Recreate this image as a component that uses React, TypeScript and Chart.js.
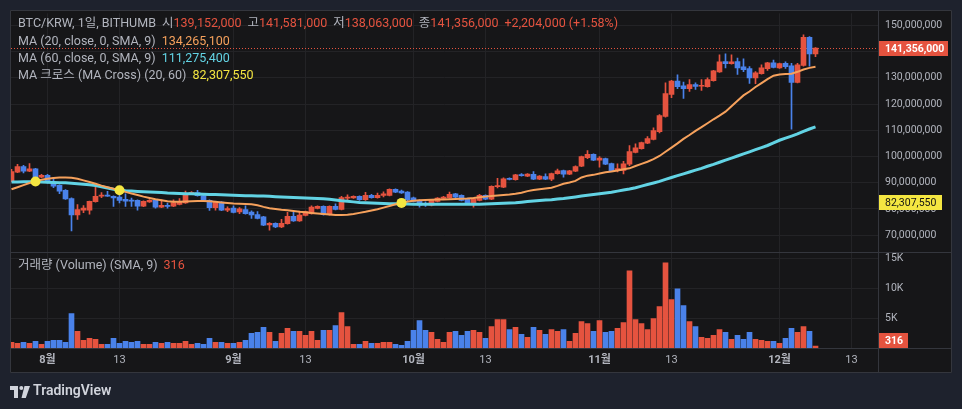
import React, { useEffect, useRef } from "react";
import { Chart, registerables } from "chart.js";

Chart.register(...registerables);

// ---------- DATA (prices in millions of KRW, daily, 2024-07-26 .. 2024-12-07) ----------
const OPEN = [
  90.5, 94.0, 96.2, 94.4, 95.3, 92.1, 92.8, 90.2, 89.0, 87.1,
  84.0, 77.7, 79.5, 79.5, 82.8, 84.9, 85.2, 84.8, 84.5, 83.7,
  83.3, 83.3, 81.1, 82.7, 83.3, 80.7, 81.4, 81.1, 81.7, 82.3,
  86.0, 86.2, 85.1, 83.3, 80.5, 82.6, 79.5, 80.3, 78.9, 79.8,
  78.8, 77.9, 77.0, 73.9, 74.5, 73.1, 74.4, 77.2, 75.4, 77.5,
  78.2, 80.2, 81.0, 77.8, 81.0, 79.8, 84.1, 84.2, 84.8, 83.5,
  85.2, 84.3, 85.2, 85.2, 87.5, 86.8, 86.4, 84.2, 83.3, 82.0,
  81.4, 82.9, 84.0, 84.3, 85.8, 85.2, 83.9, 82.3, 83.3, 85.2,
  83.7, 88.5, 88.3, 91.7, 91.2, 93.0, 92.5, 93.2, 91.4, 92.3,
  91.4, 93.5, 94.6, 93.3, 94.4, 96.3, 99.6, 100.8, 98.6, 99.2,
  97.3, 94.6, 94.7, 97.1, 101.6, 103.0, 105.1, 106.5, 109.5, 115.3,
  123.7, 128.8, 127.0, 125.9, 127.4, 126.8, 126.6, 128.9, 132.3, 136.2,
  135.4, 136.2, 134.2, 133.5, 130.0, 131.6, 133.5, 135.7, 133.8, 135.5,
  134.6, 128.3, 134.7, 145.5, 139.152,
];
const HIGH = [
  95.1, 97.0, 96.6, 97.3, 95.5, 93.2, 93.2, 92.1, 89.2, 87.4,
  84.2, 81.7, 81.3, 83.0, 88.3, 86.2, 86.7, 85.0, 86.1, 85.8,
  84.1, 83.5, 83.1, 83.6, 83.5, 83.5, 82.2, 83.5, 84.0, 86.8,
  86.6, 87.1, 85.9, 83.5, 82.8, 82.8, 80.8, 81.2, 80.5, 81.2,
  79.3, 79.0, 77.2, 74.8, 74.7, 76.0, 78.7, 78.7, 79.2, 79.2,
  81.2, 81.2, 81.2, 81.2, 82.0, 84.8, 85.4, 85.0, 85.0, 86.3,
  85.6, 86.1, 86.5, 87.7, 87.7, 87.2, 86.6, 84.5, 83.5, 82.7,
  83.5, 84.3, 84.8, 86.4, 86.0, 85.4, 84.1, 84.1, 85.6, 85.4,
  88.8, 91.7, 91.9, 91.9, 93.2, 93.5, 93.5, 94.3, 92.7, 93.4,
  93.7, 95.2, 94.8, 94.7, 96.4, 100.2, 102.3, 101.0, 100.0, 99.4,
  97.5, 97.2, 98.2, 104.2, 104.8, 105.5, 107.6, 110.9, 116.0, 128.1,
  129.1, 131.2, 128.4, 129.3, 128.1, 129.3, 130.0, 132.9, 138.8, 139.2,
  138.8, 137.5, 137.3, 134.3, 132.4, 135.0, 135.9, 136.8, 135.6, 136.1,
  135.5, 135.5, 146.4, 145.7, 141.581,
];
const LOW = [
  90.4, 93.8, 93.7, 94.2, 91.7, 91.9, 89.8, 88.1, 85.8, 83.6,
  71.6, 76.0, 78.6, 78.0, 82.6, 84.3, 84.8, 81.0, 82.3, 81.0,
  81.0, 79.5, 80.9, 82.5, 80.3, 80.5, 80.3, 80.9, 81.5, 82.1,
  85.6, 84.9, 82.8, 79.4, 79.5, 79.3, 79.0, 78.5, 78.2, 78.0,
  76.4, 76.2, 73.6, 71.9, 72.9, 72.9, 74.2, 75.2, 75.2, 77.3,
  78.0, 80.0, 77.6, 77.6, 79.6, 79.6, 82.9, 84.0, 83.3, 83.3,
  84.1, 84.1, 84.6, 85.0, 86.2, 85.9, 82.6, 82.7, 80.7, 81.0,
  81.2, 82.7, 83.8, 84.1, 84.3, 83.1, 82.1, 80.7, 83.1, 83.5,
  83.5, 88.0, 88.1, 91.1, 91.0, 92.5, 92.3, 91.2, 91.2, 91.2,
  90.8, 93.3, 92.1, 93.1, 94.2, 96.1, 99.2, 98.4, 95.9, 96.9,
  94.4, 94.1, 93.4, 96.5, 101.4, 102.8, 104.9, 106.3, 109.0, 115.0,
  122.4, 125.9, 122.2, 124.8, 125.6, 125.2, 126.4, 128.7, 132.1, 133.8,
  135.2, 131.3, 132.4, 127.9, 127.8, 131.4, 132.8, 133.8, 133.6, 133.6,
  110.4, 128.1, 134.5, 134.5, 138.063,
];
const CLOSE = [
  94.3, 96.2, 94.4, 95.3, 91.9, 92.8, 90.0, 88.7, 86.8, 83.8,
  77.7, 79.8, 80.3, 82.9, 84.8, 85.2, 84.9, 84.2, 83.3, 83.0,
  83.0, 81.1, 82.9, 83.3, 80.7, 81.4, 81.0, 82.4, 82.6, 85.8,
  86.3, 85.1, 83.0, 80.5, 82.6, 79.5, 80.1, 78.7, 80.0, 78.2,
  77.7, 76.4, 73.8, 74.5, 73.1, 74.5, 77.2, 75.4, 77.7, 79.0,
  80.7, 81.0, 77.8, 81.0, 79.8, 84.3, 84.4, 84.8, 83.5, 85.2,
  84.3, 85.2, 85.8, 87.5, 86.4, 86.1, 83.5, 82.9, 81.4, 81.8,
  83.3, 84.1, 84.5, 85.6, 84.5, 83.3, 82.3, 83.9, 85.2, 83.7,
  88.6, 88.7, 91.5, 91.3, 93.0, 92.7, 93.3, 91.4, 92.5, 91.4,
  93.5, 94.5, 93.3, 94.5, 96.2, 100.0, 100.8, 98.6, 99.4, 97.1,
  94.6, 95.4, 97.2, 101.9, 103.3, 105.3, 106.8, 109.9, 115.6, 124.0,
  128.8, 126.6, 125.9, 127.4, 126.7, 127.0, 129.3, 132.7, 136.1, 135.4,
  136.1, 133.8, 133.1, 130.0, 131.9, 133.8, 135.7, 134.0, 135.4, 134.3,
  128.3, 135.0, 145.5, 139.152, 141.356,
];
const VOLUME = [
  945, 780, 945, 780, 1110, 610, 1110, 1280, 1280, 945,
  5780, 2780, 1280, 1610, 1445, 610, 610, 1610, 780, 1110,
  945, 1110, 610, 610, 945, 780, 945, 780, 780, 1110,
  610, 780, 610, 1610, 945, 945, 780, 780, 945, 1280,
  2450, 2610, 3450, 2610, 1110, 2450, 3280, 2780, 2780, 2110,
  2780, 1280, 2950, 2950, 3780, 5950, 3610, 610, 610, 1110,
  780, 780, 945, 945, 610, 445, 1110, 2950, 4610, 2950,
  2610, 1445, 945, 2610, 2780, 2110, 2780, 2950, 2610, 1610,
  3610, 4780, 4780, 3110, 3450, 2280, 1780, 3450, 2950, 2280,
  3110, 2780, 3110, 1110, 2450, 4450, 4110, 2780, 4610, 2610,
  2780, 3280, 4280, 12950, 4780, 4110, 3110, 4950, 6950, 14290,
  8120, 9950, 7120, 4450, 3610, 1780, 1610, 2110, 3110, 2610,
  1445, 2110, 1445, 2610, 1445, 1280, 1110, 1110, 780, 1610,
  3280, 2610, 3610, 2780, 316,
];
const MA20 = [
  87.5, 88.3, 89.1, 89.9, 90.5, 91.1, 91.5, 91.8, 92.0, 92.0,
  91.9, 91.5, 90.9, 90.3, 89.6, 88.9, 88.3, 87.7, 87.1, 86.5,
  85.9, 85.3, 84.7, 84.2, 83.7, 83.3, 82.9, 82.7, 82.7, 82.8,
  82.9, 83.0, 83.0, 82.9, 82.7, 82.5, 82.3, 82.1, 82.0, 81.9,
  81.8, 81.4, 80.8, 80.3, 80.0, 79.7, 79.5, 79.2, 78.9, 78.7,
  78.5, 78.3, 78.1, 77.9, 77.7, 77.7, 77.8, 78.1, 78.5, 78.9,
  79.4, 79.9, 80.5, 81.1, 81.8, 82.3, 82.8, 83.1, 83.3, 83.4,
  83.5, 83.6, 83.6, 83.7, 83.8, 83.9, 84.0, 84.2, 84.5, 84.7,
  84.9, 85.1, 85.3, 85.5, 85.8, 86.2, 86.8, 87.2, 87.5, 87.8,
  88.1, 88.8, 89.6, 90.1, 90.7, 92.0, 92.7, 93.0, 93.5, 94.0,
  94.3, 94.7, 95.1, 95.5, 96.4, 97.2, 98.0, 99.0, 100.2, 101.8,
  103.4, 105.0, 106.7, 108.2, 109.8, 111.2, 112.7, 114.2, 115.6, 117.1,
  119.2, 121.3, 123.3, 124.8, 126.5, 128.0, 129.5, 130.8, 131.3, 131.5,
  131.6, 132.3, 133.2, 133.8, 134.2651,
];
const MA60 = [
  90.3, 90.3, 90.4, 90.4, 90.4, 90.3, 90.2, 90.1, 90.0, 90.0,
  89.8, 89.6, 89.4, 89.2, 88.9, 88.5, 88.0, 87.5, 87.2, 86.9,
  86.8, 86.7, 86.6, 86.5, 86.4, 86.3, 86.1, 86.0, 85.9, 85.8,
  85.8, 85.7, 85.6, 85.5, 85.5, 85.4, 85.3, 85.2, 85.1, 85.0,
  85.0, 84.9, 84.9, 84.8, 84.7, 84.6, 84.5, 84.4, 84.3, 84.2,
  84.1, 84.0, 83.9, 83.7, 83.4, 83.1, 82.9, 82.7, 82.5, 82.4,
  82.3, 82.2, 82.1, 82.0, 82.0, 81.9, 81.9, 81.8, 81.8, 81.8,
  81.8, 81.8, 81.8, 81.8, 81.8, 81.8, 81.8, 81.8, 81.8, 81.9,
  82.0, 82.1, 82.2, 82.3, 82.4, 82.6, 82.8, 83.0, 83.2, 83.4,
  83.5, 83.8, 84.0, 84.3, 84.6, 84.9, 85.2, 85.5, 85.8, 86.1,
  86.4, 86.8, 87.2, 87.6, 88.1, 88.7, 89.3, 89.9, 90.5, 91.3,
  92.0, 92.7, 93.4, 94.1, 94.8, 95.5, 96.3, 97.0, 97.8, 98.6,
  99.4, 100.2, 101.0, 101.8, 102.6, 103.4, 104.2, 105.2, 106.2, 107.0,
  107.8, 108.6, 109.6, 110.5, 111.2754,
];
const CROSS_INDEX = [4, 18, 65];
const CROSS_VALUE = [90.5, 87.1, 82.30755];

const PRICE_TICKS = [70, 80, 90, 100, 110, 120, 130, 140, 150];
const VOLUME_TICKS = [5000, 10000, 15000];
const TIME_TICK_INDEX = [6, 18, 37, 49, 67, 79, 98, 110, 128, 140];
const TIME_TICK_LABELS = ["8월", "13", "9월", "13", "10월", "13", "11월", "13", "12월", "13"];
const TIME_TICK_MONTH = [true, false, true, false, true, false, true, false, true, false];

// ---------- STYLE ----------
const UP = "#e5533f";
const DOWN = "#4a82ea";
const ORANGE = "#f6a15c";
const CYAN = "#62d3e4";
const YELLOW = "#f4e641";
const OUTER_BG = "#1e222d";
const INNER_BG = "#161618";
const GRID = "#232326";
const FRAME_LINE = "#34363d";
const TEXT = "#b2b5be";
const FONT = 'Roboto, "Noto Sans CJK KR", sans-serif';

const fmtWon = (m: number) => Math.round(m * 1e6).toLocaleString("en-US");

const tvPlugin = {
  id: "tvDecor",
  beforeDraw(chart: any) {
    const { ctx, width, height } = chart;
    ctx.save();
    ctx.fillStyle = OUTER_BG;
    ctx.fillRect(0, 0, width, height);
    ctx.fillStyle = INNER_BG;
    ctx.fillRect(10, 10, 942, 363);
    ctx.restore();
  },
  beforeDatasetsDraw(chart: any) {
    const { ctx, chartArea, scales } = chart;
    const last = CLOSE[CLOSE.length - 1];
    const y = Math.round(scales.y.getPixelForValue(last)) + 0.5;
    ctx.save();
    ctx.strokeStyle = UP;
    ctx.lineWidth = 1;
    ctx.setLineDash([1, 2]);
    ctx.beginPath();
    ctx.moveTo(chartArea.left, y);
    ctx.lineTo(chartArea.right, y);
    ctx.stroke();
    ctx.restore();
  },
  afterDraw(chart: any) {
    const { ctx, chartArea, scales } = chart;
    const n = CLOSE.length;
    ctx.save();
    // frame lines
    ctx.strokeStyle = FRAME_LINE;
    ctx.lineWidth = 1;
    ctx.beginPath();
    ctx.rect(10.5, 10.5, 941, 362);
    const sepX = chartArea.right + 0.5;
    ctx.moveTo(sepX, 10);
    ctx.lineTo(sepX, 373);
    const paneY = Math.round(scales.yv.top) + 0.5;
    ctx.moveTo(10, paneY);
    ctx.lineTo(952, paneY);
    const axY = Math.round(chartArea.bottom) + 0.5;
    ctx.moveTo(10, axY);
    ctx.lineTo(952, axY);
    ctx.stroke();

    // legend texts
    const drawSegs = (segs: [string, string][], x: number, y: number, size: number) => {
      ctx.font = `${size}px ${FONT}`;
      ctx.textBaseline = "middle";
      ctx.textAlign = "left";
      let cx = x;
      for (const [t, c] of segs) {
        if (t === "_") { cx += 6; continue; }
        ctx.fillStyle = c;
        ctx.fillText(t, cx, y);
        cx += ctx.measureText(t).width;
      }
    };
    const o = OPEN[n - 1], h = HIGH[n - 1], l = LOW[n - 1], c = CLOSE[n - 1], pc = CLOSE[n - 2];
    const ch = c - pc;
    const pct = (ch / pc) * 100;
    const sz = 12.5;
    drawSegs([
      ["BTC/KRW, 1일, BITHUMB", TEXT], ["_", ""],
      ["시", TEXT], [fmtWon(o), UP], ["_", ""],
      ["고", TEXT], [fmtWon(h), UP], ["_", ""],
      ["저", TEXT], [fmtWon(l), UP], ["_", ""],
      ["종", TEXT], [fmtWon(c), UP], ["_", ""],
      [`${ch >= 0 ? "+" : ""}${fmtWon(ch)} (${ch >= 0 ? "+" : ""}${pct.toFixed(2)}%)`, UP],
    ], 18, 24, sz);
    drawSegs([["MA (20, close, 0, SMA, 9)", TEXT], ["_", ""], [fmtWon(MA20[n - 1]), ORANGE]], 18, 41.5, sz);
    drawSegs([["MA (60, close, 0, SMA, 9)", TEXT], ["_", ""], [fmtWon(MA60[n - 1]), CYAN]], 18, 58.5, sz);
    drawSegs([["MA 크로스 (MA Cross) (20, 60)", TEXT], ["_", ""], [fmtWon(CROSS_VALUE[CROSS_VALUE.length - 1]), YELLOW]], 18, 75.5, sz);
    drawSegs([["거래량 (Volume) (SMA, 9)", TEXT], ["_", ""], [String(VOLUME[n - 1]), UP]], 18, 266, sz);

    // badges
    const badge = (text: string, yc: number, bg: string, fg: string, w: number, bold: boolean) => {
      const x0 = chartArea.right + 1;
      ctx.fillStyle = bg;
      ctx.fillRect(x0, Math.round(yc - 7.5), w, 15);
      ctx.fillStyle = fg;
      ctx.font = `${bold ? "bold " : ""}10.5px ${FONT}`;
      ctx.textBaseline = "middle";
      ctx.textAlign = "left";
      ctx.fillText(text, x0 + 6, Math.round(yc - 7.5) + 8);
    };
    badge(fmtWon(c), scales.y.getPixelForValue(c), UP, "#ffffff", 69, true);
    const cv = CROSS_VALUE[CROSS_VALUE.length - 1];
    badge(fmtWon(cv), scales.y.getPixelForValue(cv), YELLOW, "#131313", 63, false);
    const vy = Math.min(scales.yv.getPixelForValue(VOLUME[n - 1]), scales.yv.bottom - 8);
    badge(String(VOLUME[n - 1]), vy, UP, "#ffffff", 29, true);

    // TradingView logo
    ctx.fillStyle = "#d1d4dc";
    ctx.fillRect(10, 386, 8, 4);
    ctx.fillRect(14, 386, 4, 12);
    ctx.beginPath();
    ctx.arc(21.3, 388, 2, 0, Math.PI * 2);
    ctx.fill();
    ctx.beginPath();
    ctx.moveTo(24.5, 386);
    ctx.lineTo(30, 386);
    ctx.lineTo(25.8, 398);
    ctx.lineTo(21.5, 398);
    ctx.closePath();
    ctx.fill();
    ctx.font = `600 14px ${FONT}`;
    ctx.textBaseline = "middle";
    ctx.fillText("TradingView", 33, 391.5);
    ctx.restore();
  },
};

export default function App() {
  const ref = useRef<HTMLCanvasElement | null>(null);

  useEffect(() => {
    if (!ref.current) return;
    document.body.style.margin = "0";
    const idx = CLOSE.map((_, i) => i);
    const colors = idx.map((i) => (CLOSE[i] >= OPEN[i] ? UP : DOWN));
    const crossData = CROSS_INDEX.map((i, k) => ({ x: i, y: CROSS_VALUE[k] }));

    const chart = new Chart(ref.current, {
      type: "bar",
      data: {
        datasets: [
          {
            type: "scatter",
            data: crossData,
            yAxisID: "y",
            pointRadius: 5,
            pointBackgroundColor: YELLOW,
            pointBorderWidth: 0,
            order: 0,
          } as any,
          {
            type: "line",
            data: idx.map((i) => ({ x: i, y: MA20[i] })),
            yAxisID: "y",
            borderColor: ORANGE,
            borderWidth: 2,
            pointRadius: 0,
            tension: 0,
            order: 1,
          } as any,
          {
            type: "line",
            data: idx.map((i) => ({ x: i, y: MA60[i] })),
            yAxisID: "y",
            borderColor: CYAN,
            borderWidth: 3,
            pointRadius: 0,
            tension: 0,
            order: 2,
          } as any,
          {
            type: "bar",
            data: idx.map((i) => ({ x: i, y: [OPEN[i], CLOSE[i]] })),
            yAxisID: "y",
            backgroundColor: colors,
            barThickness: 5,
            minBarLength: 1,
            grouped: false,
            borderWidth: 0,
            order: 3,
          } as any,
          {
            type: "bar",
            data: idx.map((i) => ({ x: i, y: [LOW[i], HIGH[i]] })),
            yAxisID: "y",
            backgroundColor: colors,
            barThickness: 1,
            grouped: false,
            borderWidth: 0,
            order: 4,
          } as any,
          {
            type: "bar",
            data: idx.map((i) => ({ x: i, y: VOLUME[i] })),
            yAxisID: "yv",
            backgroundColor: colors,
            barThickness: 5,
            grouped: false,
            borderWidth: 0,
            order: 5,
          } as any,
        ],
      },
      options: {
        responsive: false,
        animation: false,
        devicePixelRatio: 1,
        events: [],
        layout: { padding: { left: 11, top: 11, right: 10, bottom: 36 } },
        plugins: { legend: { display: false }, tooltip: { enabled: false } },
        scales: {
          x: {
            type: "linear",
            position: "bottom",
            offset: false,
            min: -0.0833,
            max: -0.0833 + 867 / 6,
            grid: { color: GRID, drawTicks: false, lineWidth: 1, offset: false },
            border: { display: false },
            ticks: {
              autoSkip: false,
              maxRotation: 0,
              padding: 6,
              color: TEXT,
              font: (c: any) => {
                const k = TIME_TICK_INDEX.indexOf(c.tick ? c.tick.value : -1);
                return { family: FONT, size: 11, weight: k >= 0 && TIME_TICK_MONTH[k] ? "bold" : "normal" };
              },
              callback: (v: any) => {
                const k = TIME_TICK_INDEX.indexOf(Number(v));
                return k >= 0 ? TIME_TICK_LABELS[k] : "";
              },
            },
            afterBuildTicks: (s: any) => {
              s.ticks = TIME_TICK_INDEX.map((v) => ({ value: v }));
            },
            afterFit: (s: any) => {
              s.height = 25;
            },
          },
          y: {
            type: "linear",
            position: "right",
            stack: "panes",
            stackWeight: 240,
            min: 63.71,
            max: 154.62,
            grid: { color: GRID, drawTicks: false, lineWidth: 1 },
            border: { display: false },
            ticks: {
              padding: 7,
              color: TEXT,
              font: { family: FONT, size: 10.5 },
              callback: (v: any) => fmtWon(Number(v)),
            },
            afterBuildTicks: (s: any) => {
              s.ticks = PRICE_TICKS.map((v) => ({ value: v }));
            },
            afterFit: (s: any) => {
              s.width = 74;
            },
          },
          yv: {
            type: "linear",
            position: "right",
            stack: "panes",
            stackWeight: 97,
            min: 0,
            max: 16167,
            grid: { color: GRID, drawTicks: false, lineWidth: 1 },
            border: { display: false },
            ticks: {
              padding: 7,
              color: TEXT,
              font: { family: FONT, size: 10.5 },
              callback: (v: any) => `${Number(v) / 1000}K`,
            },
            afterBuildTicks: (s: any) => {
              s.ticks = VOLUME_TICKS.map((v) => ({ value: v }));
            },
            afterFit: (s: any) => {
              s.width = 74;
            },
          },
        },
      } as any,
      plugins: [tvPlugin],
    });
    return () => chart.destroy();
  }, []);

  return (
    <div style={{ position: "fixed", left: 0, top: 0, width: 962, height: 409 }}>
      <canvas ref={ref} width={962} height={409} style={{ display: "block" }} />
    </div>
  );
}
